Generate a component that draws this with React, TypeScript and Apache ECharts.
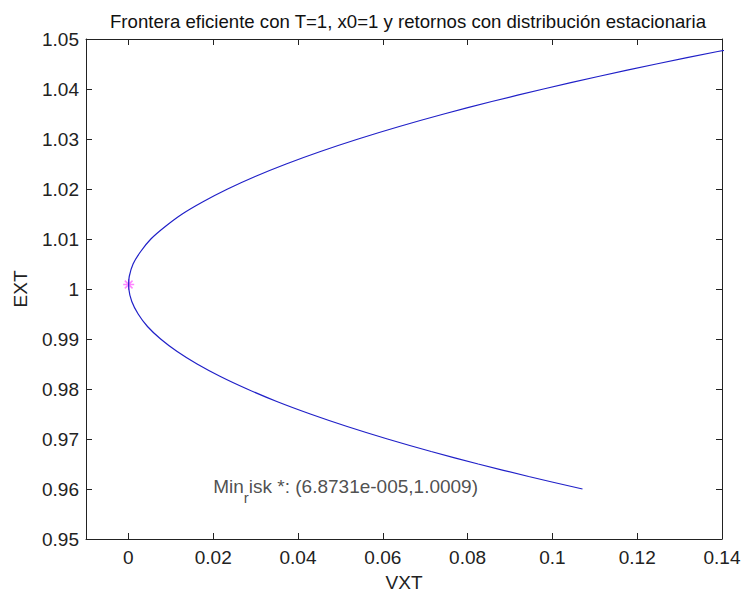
import React, { useEffect, useRef } from "react";
import * as echarts from "echarts";

const titleText = "Frontera eficiente con T=1, x0=1 y retornos con distribución estacionaria";
const xName = "VXT";
const yName = "EXT";
const xTicks = [0, 0.02, 0.04, 0.06, 0.08, 0.1, 0.12, 0.14];
const yTicks = [0.95, 0.96, 0.97, 0.98, 0.99, 1, 1.01, 1.02, 1.03, 1.04, 1.05];

// frontier: expected value (EXT) and variance (VXT)
const frontierEXT = [
  0.96, 0.9625, 0.965, 0.9675, 0.97, 0.9725, 0.975, 0.9775, 0.98, 0.9825, 0.985, 0.9875,
  0.99, 0.9925, 0.995, 0.9975, 1.0, 1.0009, 1.0025, 1.005, 1.0075, 1.01, 1.0125, 1.015,
  1.0175, 1.02, 1.0225, 1.025, 1.0275, 1.03, 1.0325, 1.035, 1.0375, 1.04, 1.0425, 1.045,
  1.0475, 1.05,
];
const frontierVXT = [
  0.1071, 0.0944, 0.0825, 0.0714, 0.0611, 0.0516, 0.0429, 0.035, 0.028, 0.0217, 0.0162, 0.0115,
  0.0076, 0.0045, 0.0023, 0.0008, 0.0001, 0.0000687, 0.0002, 0.0011, 0.0029, 0.0053, 0.0087, 0.0127,
  0.0177, 0.0234, 0.0299, 0.0372, 0.0453, 0.0542, 0.0639, 0.0744, 0.0857, 0.0979, 0.1108, 0.1245,
  0.139, 0.1543,
];
const minRiskPoint = [6.8731e-5, 1.0009];
const annotationAt = [0.02, 0.96];
const annotationRest = "isk *: (6.8731e-005,1.0009)";

export default function App() {
  const ref = useRef<HTMLDivElement>(null);
  useEffect(() => {
    if (!ref.current) return;
    const chart = echarts.init(ref.current, null, { renderer: "svg" });
    const font = "Liberation Sans, Arial, sans-serif";
    const axisColor = "#222";
    const fs = 19;
    const xBase = {
      type: "value" as const,
      min: -0.01,
      max: 0.14,
      splitLine: { show: false },
      axisLine: { show: true, onZero: false, lineStyle: { color: axisColor, width: 1 } },
    };
    const yBase = {
      type: "value" as const,
      min: 0.95,
      max: 1.05,
      splitLine: { show: false },
      axisLine: { show: true, onZero: false, lineStyle: { color: axisColor, width: 1 } },
    };
    chart.setOption({
      animation: false,
      backgroundColor: "#ffffff",
      title: {
        text: titleText,
        left: 403,
        top: 7,
        textAlign: "center",
        textStyle: { fontFamily: font, fontSize: 18.6, fontWeight: "normal", color: "#111" },
      },
      grid: {
        left: 86,
        right: 19,
        top: 39,
        bottom: 54,
        containLabel: false,
        outerBoundsMode: "none",
      },
      xAxis: [
        {
          ...xBase,
          position: "bottom",
          name: xName,
          nameLocation: "middle",
          nameGap: 34,
          nameTextStyle: { fontFamily: font, fontSize: fs, color: "#222" },
          axisTick: { inside: true, length: 6, customValues: xTicks, lineStyle: { color: axisColor } },
          axisLabel: {
            customValues: xTicks,
            margin: 9,
            fontFamily: font,
            fontSize: fs,
            color: "#222",
            formatter: (v: number) => String(v),
          },
        },
        {
          ...xBase,
          position: "top",
          axisTick: { inside: true, length: 6, customValues: xTicks, lineStyle: { color: axisColor } },
          axisLabel: { show: false, customValues: xTicks },
        },
      ],
      yAxis: [
        {
          ...yBase,
          position: "left",
          name: yName,
          nameLocation: "middle",
          nameGap: 56,
          nameTextStyle: { fontFamily: font, fontSize: fs, color: "#222" },
          axisTick: { inside: true, length: 6, customValues: yTicks, lineStyle: { color: axisColor } },
          axisLabel: {
            customValues: yTicks,
            margin: 7,
            fontFamily: font,
            fontSize: fs,
            color: "#222",
            formatter: (v: number) => String(Math.round(v * 100) / 100),
          },
        },
        {
          ...yBase,
          position: "right",
          axisTick: { inside: true, length: 6, customValues: yTicks, lineStyle: { color: axisColor } },
          axisLabel: { show: false, customValues: yTicks },
        },
      ],
      series: [
        {
          type: "line",
          xAxisIndex: 0,
          yAxisIndex: 0,
          data: frontierVXT.map((v, i) => [v, frontierEXT[i]]),
          showSymbol: false,
          smooth: 0.3,
          clip: true,
          lineStyle: { color: "#2020c8", width: 1.2 },
        },
        {
          type: "scatter",
          xAxisIndex: 0,
          yAxisIndex: 0,
          data: [minRiskPoint],
          symbol: "path://M0,5L10,5M5,0L5,10M1.5,1.5L8.5,8.5M8.5,1.5L1.5,8.5",
          symbolSize: 11,
          itemStyle: { color: "transparent", borderColor: "#ff66ff", borderWidth: 1.5 },
        },
        {
          type: "scatter",
          xAxisIndex: 0,
          yAxisIndex: 0,
          data: [annotationAt],
          symbolSize: 0,
          silent: true,
          label: {
            show: true,
            position: [0, 0],
            align: "left",
            verticalAlign: "middle",
            offset: [0, -2],
            formatter: "{m|Min}{s|r}{m|" + annotationRest + "}",
            rich: {
              m: { fontFamily: font, fontSize: fs, lineHeight: 21, verticalAlign: "top", color: "#222" },
              s: {
                fontFamily: font,
                fontSize: 15,
                lineHeight: 15,
                padding: [13, 0, 0, 0],
                verticalAlign: "top",
                color: "#222",
              },
            },
          },
        },
      ],
    });
    return () => chart.dispose();
  }, []);
  return (
    <div
      ref={ref}
      style={{ position: "fixed", left: 0, top: 0, width: 741, height: 593 }}
    />
  );
}
